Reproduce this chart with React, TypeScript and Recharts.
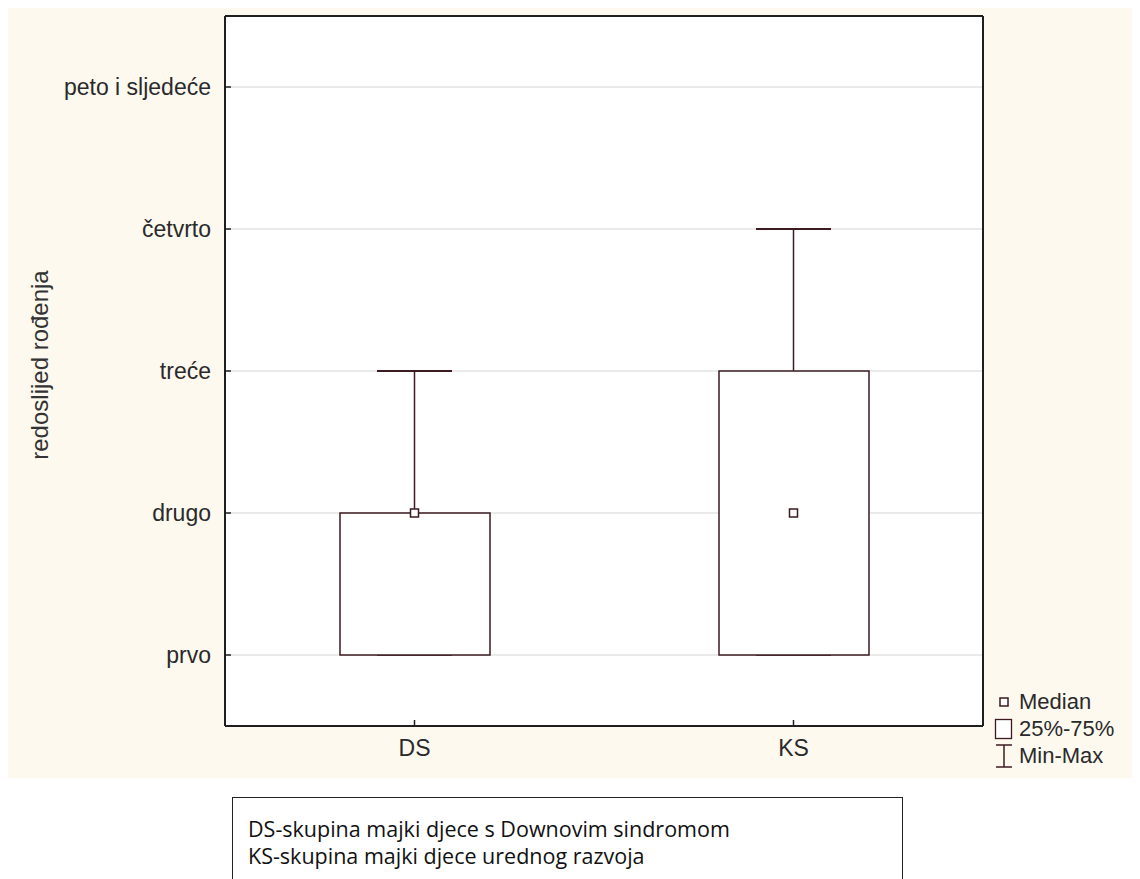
import { Bar, CartesianGrid, ComposedChart, Scatter, XAxis, YAxis } from 'recharts';

const groups = ['DS', 'KS'];
const minValues = [1, 1];
const q1Values = [1, 1];
const medianValues = [2, 2];
const q3Values = [2, 3];
const maxValues = [3, 4];

const rankTicks = [1, 2, 3, 4, 5];
const rankLabels = ['prvo', 'drugo', 'treće', 'četvrto', 'peto i sljedeće'];

const notes = ['DS-skupina majki djece s Downovim sindromom', 'KS-skupina majki djece urednog razvoja'];

const data = groups.map((group, i) => ({
  group,
  box: [q1Values[i], q3Values[i]],
  upper: [q3Values[i], maxValues[i]],
  lower: [minValues[i], q1Values[i]],
  median: medianValues[i],
}));

const MAROON = '#3b1a20';
const BORDER = '#1f1f1f';
const FONT = '"Liberation Sans", Arial, sans-serif';

function BoxShape(props: any) {
  const { x, y, width, height } = props;
  const top = Math.min(y, y + height);
  const h = Math.abs(height);
  return <rect x={x} y={top} width={width} height={h} fill="#fff" stroke={MAROON} strokeWidth={1.5} />;
}

function UpperWhisker(props: any) {
  const { x, y, width, height } = props;
  const top = Math.min(y, y + height);
  const bottom = Math.max(y, y + height);
  const cx = x + width / 2;
  return (
    <g>
      <line x1={cx} x2={cx} y1={top} y2={bottom} stroke={MAROON} strokeWidth={1.5} />
      <line x1={x} x2={x + width} y1={top} y2={top} stroke={MAROON} strokeWidth={2} />
    </g>
  );
}

function LowerWhisker(props: any) {
  const { x, y, width, height } = props;
  const top = Math.min(y, y + height);
  const bottom = Math.max(y, y + height);
  const cx = x + width / 2;
  return (
    <g>
      <line x1={cx} x2={cx} y1={top} y2={bottom} stroke={MAROON} strokeWidth={1.5} />
      <line x1={x} x2={x + width} y1={bottom} y2={bottom} stroke={MAROON} strokeWidth={1.5} />
    </g>
  );
}

function MedianShape(props: any) {
  const { cx, cy } = props;
  return <rect x={cx - 4} y={cy - 4} width={8} height={8} fill="#fff" stroke={MAROON} strokeWidth={1.5} />;
}

function YTitle(props: any) {
  const vb = props.viewBox || { x: 0, y: 0, width: 0, height: 0 };
  const x = vb.x + 31;
  const y = vb.y + vb.height / 2 - 6;
  return (
    <text
      x={x}
      y={y}
      transform={`rotate(-90 ${x} ${y})`}
      textAnchor="middle"
      dominantBaseline="central"
      fill="#333"
      fontSize={24}
      fontFamily={FONT}
    >
      redoslijed rođenja
    </text>
  );
}

function LegendBox() {
  const row = { display: 'flex', alignItems: 'center', height: 27 } as const;
  const label = { fontSize: 22, color: '#2a2a2a', fontFamily: FONT, marginLeft: 5, lineHeight: '22px' };
  return (
    <div style={{ position: 'absolute', left: 986, top: 680 }}>
      <div style={row}>
        <svg width={20} height={20}>
          <rect x={6} y={6} width={8} height={8} fill="#fff" stroke={MAROON} strokeWidth={1.5} />
        </svg>
        <span style={label}>Median</span>
      </div>
      <div style={row}>
        <svg width={20} height={22}>
          <rect x={1.5} y={1.5} width={16} height={19} fill="#fff" stroke={MAROON} strokeWidth={1.3} />
        </svg>
        <span style={label}>25%-75%</span>
      </div>
      <div style={row}>
        <svg width={20} height={24}>
          <line x1={2} x2={18} y1={1} y2={1} stroke={MAROON} strokeWidth={1.5} />
          <line x1={10} x2={10} y1={1} y2={23} stroke={MAROON} strokeWidth={1.5} />
          <line x1={2} x2={18} y1={23} y2={23} stroke={MAROON} strokeWidth={1.5} />
        </svg>
        <span style={label}>Min-Max</span>
      </div>
    </div>
  );
}

export default function App() {
  const tickStyle = { fontSize: 23, fill: '#2a2a2a', fontFamily: FONT };
  return (
    <div style={{ position: 'relative', width: 1132, height: 871 }}>
      <div style={{ width: 1132, height: 770, background: '#fdf9ef' }}>
        <ComposedChart width={1132} height={770} data={data} margin={{ top: 7, right: 156, bottom: 0, left: 0 }}>
          <CartesianGrid horizontal vertical={false} fill="#fff" stroke="#d6d6d6" strokeWidth={1.2} yAxisId="left" xAxisId="box" />
          <XAxis
            xAxisId="box"
            dataKey="group"
            height={52}
            axisLine={{ stroke: BORDER, strokeWidth: 2 }}
            tickLine={{ stroke: BORDER, strokeWidth: 1.5 }}
            tickSize={-6}
            tickMargin={20}
            tick={tickStyle}
          />
          <XAxis xAxisId="upper" dataKey="group" hide />
          <XAxis xAxisId="lower" dataKey="group" hide />
          <XAxis
            xAxisId="top"
            dataKey="group"
            orientation="top"
            height={1}
            axisLine={{ stroke: BORDER, strokeWidth: 2 }}
            tickLine={false}
            tick={false}
          />
          <YAxis
            yAxisId="left"
            type="number"
            domain={[0.5, 5.5]}
            ticks={rankTicks}
            tickFormatter={(v: number) => rankLabels[rankTicks.indexOf(v)] ?? ''}
            width={217}
            axisLine={{ stroke: BORDER, strokeWidth: 2 }}
            tickLine={{ stroke: BORDER, strokeWidth: 1.5 }}
            tickSize={-6}
            tickMargin={20}
            tick={tickStyle}
            label={<YTitle />}
          />
          <YAxis
            yAxisId="right"
            orientation="right"
            type="number"
            domain={[0.5, 5.5]}
            ticks={rankTicks}
            width={1}
            axisLine={{ stroke: BORDER, strokeWidth: 2 }}
            tickLine={{ stroke: BORDER, strokeWidth: 1.5 }}
            tickSize={-6}
            tick={false}
          />
          <Bar
            dataKey="upper"
            xAxisId="upper"
            yAxisId="left"
            barSize={75}
            shape={<UpperWhisker />}
            isAnimationActive={false}
          />
          <Bar
            dataKey="lower"
            xAxisId="lower"
            yAxisId="left"
            barSize={75}
            shape={<LowerWhisker />}
            isAnimationActive={false}
          />
          <Bar dataKey="box" xAxisId="box" yAxisId="left" barSize={150} shape={<BoxShape />} isAnimationActive={false} />
          <Scatter dataKey="median" xAxisId="box" yAxisId="left" shape={<MedianShape />} isAnimationActive={false} />
        </ComposedChart>
      </div>
      <LegendBox />
      <div
        style={{
          position: 'absolute',
          left: 224,
          top: 789,
          width: 671,
          height: 100,
          border: '1.5px solid #222',
          boxSizing: 'border-box',
          background: '#fff',
          padding: '17px 0 0 15px',
          fontFamily: '"Open Sans", "Noto Sans", sans-serif',
          fontSize: 21.5,
          lineHeight: '27px',
          color: '#111',
        }}
      >
        {notes.map((n) => (
          <div key={n}>{n}</div>
        ))}
      </div>
    </div>
  );
}
